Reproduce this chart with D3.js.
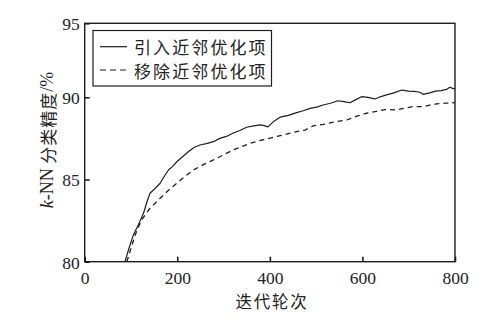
<!DOCTYPE html>
<html>
<head>
<meta charset="utf-8">
<script src="https://cdn.jsdelivr.net/npm/d3@7"></script>
<style>
  html, body { margin: 0; padding: 0; background: #fff; }
  svg { display: block; }
  .num { font-family: "Liberation Serif", "DejaVu Serif", serif; font-size: 17.5px; fill: #222; }
  .cjk { font-family: "Noto Sans CJK SC", sans-serif; fill: #222; }
</style>
</head>
<body>
<svg id="chart" width="497" height="322"></svg>
<script>
// Iterations and k-NN accuracy (%) with the neighbour optimisation term kept
const iterWith = [87, 96, 105, 116, 127, 134, 141, 152, 163, 172, 181, 190, 199, 212, 224, 236, 249, 263, 278, 292, 306, 321, 335, 350, 365, 379, 388, 396, 409, 422, 440, 458, 472, 487, 501, 515, 531, 547, 560, 573, 586, 598, 612, 627, 640, 652, 668, 685, 700, 712, 724, 731, 745, 758, 770, 782, 789, 795, 800];
const accWith  = [80.0, 80.85, 81.62, 82.25, 82.94, 83.6, 84.16, 84.45, 84.77, 85.2, 85.58, 85.8, 86.08, 86.4, 86.69, 86.95, 87.1, 87.18, 87.3, 87.5, 87.62, 87.83, 87.98, 88.18, 88.26, 88.32, 88.28, 88.2, 88.55, 88.79, 88.9, 89.07, 89.18, 89.33, 89.4, 89.53, 89.64, 89.79, 89.74, 89.67, 89.86, 90.04, 90.0, 89.9, 90.05, 90.16, 90.3, 90.49, 90.42, 90.4, 90.34, 90.2, 90.3, 90.42, 90.45, 90.54, 90.68, 90.6, 90.56];

// Same run with the neighbour optimisation term removed
const iterWithout = [91, 100, 109, 116, 123, 132, 141, 152, 163, 181, 199, 217, 235, 256, 278, 300, 321, 339, 357, 380, 405, 429, 452, 476, 493, 515, 540, 566, 588, 609, 630, 652, 674, 692, 709, 731, 745, 760, 780, 800];
const accWithout  = [80.0, 80.8, 81.62, 82.1, 82.54, 82.9, 83.25, 83.55, 83.86, 84.35, 84.77, 85.2, 85.58, 85.9, 86.19, 86.5, 86.8, 87.0, 87.2, 87.38, 87.55, 87.71, 87.88, 88.01, 88.26, 88.35, 88.5, 88.62, 88.85, 89.03, 89.15, 89.27, 89.23, 89.35, 89.43, 89.43, 89.52, 89.6, 89.64, 89.68];

const xTicks = [0, 200, 400, 600, 800];
const yTicks = [80, 85, 90, 95];
const seriesNames = ["引入近邻优化项", "移除近邻优化项"];

const svg = d3.select("#chart");
const plotL = 84.7, plotR = 455, plotT = 23.3, plotB = 261.7;

const x = d3.scaleLinear().domain([0, 800]).range([plotL, plotR]);
// polylinear: the upper band of the axis is drawn slightly compressed
const y = d3.scaleLinear().domain([80, 90, 95]).range([plotB, 97.3, plotT]);

const ink = "#1e1e1e";

// Axes with inward ticks
const gx = svg.append("g")
  .attr("transform", `translate(0,${plotB})`)
  .call(d3.axisBottom(x).tickValues(xTicks).tickSizeInner(-5).tickSizeOuter(0).tickPadding(10));
const gy = svg.append("g")
  .attr("transform", `translate(${plotL},0)`)
  .call(d3.axisLeft(y).tickValues(yTicks).tickSizeInner(-5).tickSizeOuter(0).tickPadding(5));

[gx, gy].forEach(g => {
  g.selectAll(".domain").remove();
  g.selectAll(".tick line").attr("stroke", ink).attr("stroke-width", 1.6);
  g.selectAll(".tick text").attr("class", "num").attr("fill", ink).attr("font-family", null).attr("font-size", null);
});
gy.selectAll(".tick text").attr("dy", "0.36em");

// Plot frame
svg.append("rect")
  .attr("x", plotL).attr("y", plotT)
  .attr("width", plotR - plotL).attr("height", plotB - plotT)
  .attr("fill", "none").attr("stroke", ink).attr("stroke-width", 1.4);

// Series lines
const line = d3.line().x(d => x(d[0])).y(d => y(d[1]));
const solidData = d3.zip(iterWith, accWith);
const dashData = d3.zip(iterWithout, accWithout);

svg.append("path").datum(solidData)
  .attr("d", line).attr("fill", "none")
  .attr("stroke", ink).attr("stroke-width", 1.2).attr("stroke-linejoin", "round");
svg.append("path").datum(dashData)
  .attr("d", line).attr("fill", "none")
  .attr("stroke", ink).attr("stroke-width", 1.3).attr("stroke-dasharray", "5,4");

// Legend
const lg = svg.append("g");
lg.append("rect").attr("x", 93).attr("y", 30.5).attr("width", 178.5).attr("height", 55.5)
  .attr("fill", "#fff").attr("stroke", ink).attr("stroke-width", 1.2);
const legendRows = [{ y: 46.7, dash: null }, { y: 70, dash: "6,4" }];
legendRows.forEach((r, i) => {
  lg.append("line").attr("x1", 100).attr("x2", 127).attr("y1", r.y).attr("y2", r.y)
    .attr("stroke", ink).attr("stroke-width", 1.2).attr("stroke-dasharray", r.dash);
  lg.append("text").attr("class", "cjk").attr("x", 134).attr("y", r.y)
    .attr("dominant-baseline", "central")
    .attr("font-size", 17).attr("letter-spacing", 2.1)
    .text(seriesNames[i]);
});

// Axis titles
svg.append("text").attr("class", "cjk")
  .attr("x", 272).attr("y", 301).attr("text-anchor", "middle")
  .attr("dominant-baseline", "central").attr("font-size", 16.5).attr("letter-spacing", 1.8)
  .text("迭代轮次");

const yt = svg.append("text")
  .attr("transform", "translate(47,140) rotate(-90)")
  .attr("text-anchor", "middle").attr("dominant-baseline", "central")
  .attr("fill", ink);
yt.append("tspan").attr("font-family", "Liberation Serif, serif").attr("font-style", "italic").attr("font-size", 18).text("k");
yt.append("tspan").attr("font-family", "Liberation Serif, serif").attr("font-size", 18).text("-NN ");
yt.append("tspan").attr("font-family", "Noto Sans CJK SC, sans-serif").attr("font-size", 17).attr("letter-spacing", 1).text("分类精度");
yt.append("tspan").attr("font-family", "Liberation Serif, serif").attr("font-size", 18).text("/%");
</script>
</body>
</html>
